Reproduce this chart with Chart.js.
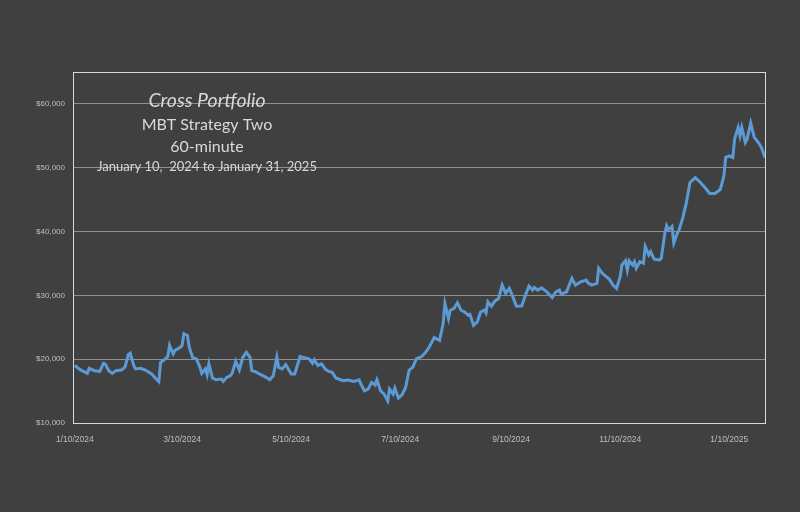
<!DOCTYPE html>
<html>
<head>
<meta charset="utf-8">
<script src="https://cdn.jsdelivr.net/npm/chart.js@4.4.1/dist/chart.umd.min.js"></script>
<style>
  html, body { margin: 0; padding: 0; background: #404040; }
  #wrap { width: 800px; height: 512px; position: relative; }
</style>
</head>
<body>
<div id="wrap"><canvas id="c" width="800" height="512"></canvas></div>
<script>
// Day offsets from January 10, 2024
const days = [0,3,7,8,11,14,16,17,19,21,23,26,28,30,31,33,34,37,40,43,45,47,48,50,52,53,55,56,59,60,61,63,64,66,68,70,71,73,74,75,77,79,82,83,85,87,88,90,92,94,96,98,99,101,104,107,109,111,113,114,116,118,121,123,126,129,131,133,134,136,138,140,142,144,146,150,153,156,159,160,162,164,166,168,169,171,173,175,176,178,179,181,183,185,187,189,191,194,196,198,201,204,206,207,209,210,212,214,216,218,220,221,223,225,227,229,230,231,233,235,237,239,241,243,245,247,250,252,254,256,257,259,261,264,267,269,271,272,275,278,280,283,286,287,289,292,293,295,299,301,303,305,306,308,309,310,312,313,314,316,318,319,321,322,324,327,328,330,331,332,334,335,337,338,340,342,344,347,350,353,355,358,361,363,364,366,368,369,371,372,373,375,376,378,380,382,384,386];
// Portfolio equity values ($)
const equity = [19000,18360,17780,18560,18200,18090,19350,19260,18200,17780,18200,18310,18720,20730,20930,18990,18470,18560,18200,17680,17050,16470,19510,19890,20410,22150,20840,21360,21880,22150,23990,23720,21880,20200,20050,18720,17780,18470,17570,19260,17050,16780,16890,16510,17150,17410,17780,19670,18310,20300,21090,20300,18200,18040,17570,17150,16780,17410,20300,18720,18470,19150,17680,17680,20410,20200,20050,19350,19890,18990,19260,18470,18090,17930,17050,16620,16730,16510,16780,16100,15050,15310,16360,15950,16780,15050,14530,13470,15310,14530,15470,13900,14420,15570,18300,18720,20050,20410,21000,21780,23400,22930,25570,28720,26350,27670,27930,28820,27670,27400,26880,27030,25300,25820,27400,27670,27240,28980,28300,29130,29510,31610,30300,31090,29760,28300,28350,30030,31450,30820,31250,30820,31180,30550,29670,30550,30820,30190,30550,32660,31610,32130,32400,31970,31610,31880,34240,33450,32510,31610,31090,32920,34760,35440,33970,35440,34760,35280,34240,35280,35030,37650,36340,36860,35660,35550,35820,39760,40910,40280,40800,38190,39760,40280,42130,44500,47650,48440,47650,46700,45960,45960,46590,48690,51590,51850,51590,54480,56320,55000,56320,53960,54480,57000,54750,54060,53170,51590];
const xTickDays = [0,60,121,182,244,305,366];
const xTickLabels = ['1/10/2024','3/10/2024','5/10/2024','7/10/2024','9/10/2024','11/10/2024','1/10/2025'];
const yTickValues = [10000,20000,30000,40000,50000,60000];
const titleLines = ['Cross Portfolio','MBT Strategy Two','60-minute','January 10,  2024 to January 31, 2025'];

const points = days.map((d, i) => ({ x: d, y: equity[i] }));

const bgPlugin = {
  id: 'bg',
  beforeDraw(chart) {
    const ctx = chart.ctx;
    ctx.save();
    ctx.fillStyle = '#404040';
    ctx.fillRect(0, 0, chart.width, chart.height);
    ctx.restore();
  },
  afterDraw(chart) {
    const ctx = chart.ctx;
    const a = chart.chartArea;
    ctx.save();
    ctx.strokeStyle = '#d9d9d9';
    ctx.lineWidth = 1;
    ctx.strokeRect(Math.round(a.left) + 0.5, Math.round(a.top) + 0.5, Math.round(a.right - a.left), Math.round(a.bottom - a.top));
    ctx.fillStyle = '#d9d9d9';
    ctx.textAlign = 'center';
    ctx.textBaseline = 'middle';
    const cx = 207;
    const specs = [
      { font: 'italic 19.5px Lato', y: 101 },
      { font: '16px Lato', y: 125 },
      { font: '16px Lato', y: 147 },
      { font: '13px Lato', y: 167 }
    ];
    titleLines.forEach((t, i) => {
      ctx.font = specs[i].font;
      ctx.fillText(t, cx, specs[i].y);
    });
    ctx.restore();
  }
};

new Chart(document.getElementById('c'), {
  type: 'line',
  data: {
    datasets: [{
      data: points,
      borderColor: '#5b9bd5',
      borderWidth: 3,
      pointRadius: 0,
      tension: 0,
      fill: false
    }]
  },
  options: {
    responsive: false,
    animation: false,
    events: [],
    layout: { padding: { left: 0, right: 35, top: 72, bottom: 64 } },
    plugins: { legend: { display: false }, tooltip: { enabled: false } },
    scales: {
      x: {
        type: 'linear',
        min: -1,
        max: 386,
        afterBuildTicks(scale) { scale.ticks = xTickDays.map(v => ({ value: v })); },
        afterFit(scale) { scale.height = 25; },
        grid: { display: false },
        border: { display: false },
        ticks: {
          color: '#bfbfbf',
          font: { family: 'Liberation Sans', size: 8.5 },
          padding: 4,
          maxRotation: 0,
          autoSkip: false,
          callback(v) { const i = xTickDays.indexOf(v); return i >= 0 ? xTickLabels[i] : ''; }
        }
      },
      y: {
        type: 'linear',
        min: 10000,
        max: 65000,
        afterBuildTicks(scale) { scale.ticks = yTickValues.map(v => ({ value: v })); },
        afterFit(scale) { scale.width = 73; },
        grid: { color: '#8f8f8f', lineWidth: 1, drawTicks: false },
        border: { display: false },
        ticks: {
          color: '#bfbfbf',
          font: { family: 'Liberation Sans', size: 8 },
          padding: 8,
          callback(v) { return '$' + v.toLocaleString('en-US'); }
        }
      }
    }
  },
  plugins: [bgPlugin]
});
</script>
</body>
</html>
